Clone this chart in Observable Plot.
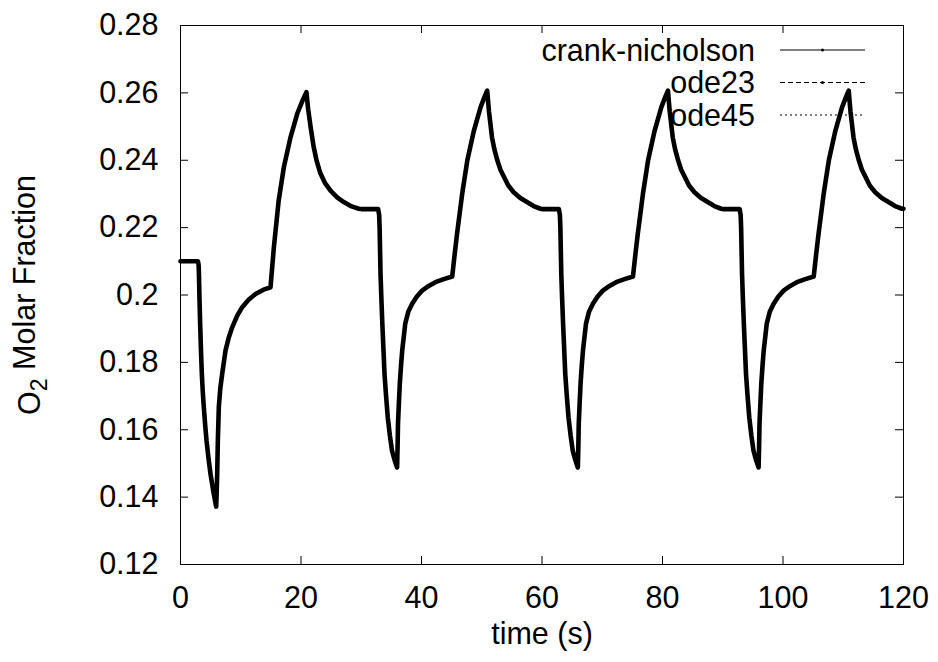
<!DOCTYPE html>
<html>
<head>
<meta charset="utf-8">
<script src="https://cdn.jsdelivr.net/npm/d3@7"></script>
<script src="https://cdn.jsdelivr.net/npm/@observablehq/plot@0.6"></script>
<style>
  html, body { margin: 0; padding: 0; background: #fff; }
  #chart svg { display: block; }
</style>
</head>
<body>
<div id="chart"></div>
<script>
// ---------------- data ----------------
const seriesNames = ["crank-nicholson", "ode23", "ode45"];

const xTicks = [0, 20, 40, 60, 80, 100, 120];
const xTickLabels = ["0", "20", "40", "60", "80", "100", "120"];
const yTicks = [0.12, 0.14, 0.16, 0.18, 0.20, 0.22, 0.24, 0.26, 0.28];
const yTickLabels = ["0.12", "0.14", "0.16", "0.18", "0.2", "0.22", "0.24", "0.26", "0.28"];

// time (s) — the three solvers overlap exactly in the picture
const timeS = [
  0, 2.9, 3.0, 3.05, 3.15, 3.26, 3.4, 3.54, 3.7, 3.87, 4.1, 4.32, 4.65, 4.98, 5.4, 5.81, 5.92,
  6.0, 6.09, 6.2, 6.36, 6.6, 6.92, 7.47, 8.0, 8.58, 9.4, 10.24, 11.3, 12.45, 13.7, 14.94,
  15.5, 16.3, 17.15, 18.26, 19.37, 20.2, 20.9,
  21.2, 21.6, 22.1, 22.6, 23.2, 24.0, 24.9, 26.0, 27.1, 28.4, 29.6, 30.0,
  32.8, 32.97, 33.05, 33.2, 33.35, 33.5, 33.86, 34.1, 34.4, 34.75, 35.1, 35.5, 35.95,
  36.03, 36.1, 36.25, 36.4, 36.6, 36.8, 37.3, 37.8, 38.45, 39.2, 40.1, 41.2, 42.3, 43.7, 45.1,
  45.5, 45.9, 46.75, 47.6, 48.7, 49.8, 50.4, 50.9,
  51.2, 51.7, 52.1, 52.6, 53.1, 53.7, 54.4, 55.3, 56.4, 57.5, 58.6, 59.75, 60.0,
  62.8, 62.97, 63.05, 63.2, 63.35, 63.5, 63.86, 64.1, 64.4, 64.75, 65.1, 65.5, 65.95,
  66.03, 66.1, 66.25, 66.4, 66.6, 66.8, 67.3, 67.8, 68.45, 69.2, 70.1, 71.2, 72.3, 73.7, 75.1,
  75.5, 75.9, 76.75, 77.6, 78.7, 79.8, 80.4, 80.9,
  81.2, 81.7, 82.1, 82.6, 83.1, 83.7, 84.4, 85.3, 86.4, 87.5, 88.6, 89.75, 90.0,
  92.8, 92.97, 93.05, 93.2, 93.35, 93.5, 93.86, 94.1, 94.4, 94.75, 95.1, 95.5, 95.95,
  96.03, 96.1, 96.25, 96.4, 96.6, 96.8, 97.3, 97.8, 98.45, 99.2, 100.1, 101.2, 102.3, 103.7, 105.1,
  105.5, 105.9, 106.75, 107.6, 108.7, 109.8, 110.4, 110.9,
  111.2, 111.7, 112.1, 112.6, 113.1, 113.7, 114.4, 115.3, 116.4, 117.5, 118.6, 119.75, 120.0
];

// O2 molar fraction
const o2Fraction = [
  0.2100, 0.2100, 0.2090, 0.2070, 0.1990, 0.1915, 0.1835, 0.1766, 0.1712, 0.1667, 0.1613, 0.1568, 0.1515, 0.1469, 0.1422, 0.1382, 0.1372,
  0.1410, 0.1469, 0.1568, 0.1667, 0.1722, 0.1766, 0.1835, 0.1873, 0.1904, 0.1938, 0.1964, 0.1986, 0.2003, 0.2015, 0.2023,
  0.2142, 0.2281, 0.2379, 0.2468, 0.2538, 0.2575, 0.2602,
  0.2550, 0.2498, 0.2440, 0.2398, 0.2362, 0.2332, 0.2310, 0.2290, 0.2276, 0.2263, 0.2256, 0.2255,
  0.2255, 0.2238, 0.2200, 0.2063, 0.1985, 0.1915, 0.1766, 0.1705, 0.1637, 0.1583, 0.1538, 0.1512, 0.1488,
  0.1550, 0.1618, 0.1680, 0.1737, 0.1790, 0.1835, 0.1915, 0.1950, 0.1974, 0.1995, 0.2013, 0.2027, 0.2038, 0.2047, 0.2055,
  0.2120, 0.2182, 0.2300, 0.2399, 0.2488, 0.2557, 0.2585, 0.2607,
  0.2545, 0.2468, 0.2432, 0.2399, 0.2372, 0.2350, 0.2325, 0.2305, 0.2288, 0.2276, 0.2264, 0.2256, 0.2255,
  0.2255, 0.2238, 0.2200, 0.2063, 0.1985, 0.1915, 0.1766, 0.1705, 0.1637, 0.1583, 0.1538, 0.1512, 0.1488,
  0.1550, 0.1618, 0.1680, 0.1737, 0.1790, 0.1835, 0.1915, 0.1950, 0.1974, 0.1995, 0.2013, 0.2027, 0.2038, 0.2047, 0.2055,
  0.2120, 0.2182, 0.2300, 0.2399, 0.2488, 0.2557, 0.2585, 0.2607,
  0.2545, 0.2468, 0.2432, 0.2399, 0.2372, 0.2350, 0.2325, 0.2305, 0.2288, 0.2276, 0.2264, 0.2256, 0.2255,
  0.2255, 0.2238, 0.2200, 0.2063, 0.1985, 0.1915, 0.1766, 0.1705, 0.1637, 0.1583, 0.1538, 0.1512, 0.1488,
  0.1550, 0.1618, 0.1680, 0.1737, 0.1790, 0.1835, 0.1915, 0.1950, 0.1974, 0.1995, 0.2013, 0.2027, 0.2038, 0.2047, 0.2055,
  0.2120, 0.2182, 0.2300, 0.2399, 0.2488, 0.2557, 0.2585, 0.2607,
  0.2545, 0.2468, 0.2432, 0.2399, 0.2372, 0.2350, 0.2325, 0.2305, 0.2288, 0.2276, 0.2264, 0.2256, 0.2256
];

const xLabel = "time (s)";
const yLabel = "O2 Molar Fraction";

// ---------------- layout ----------------
const W = 938, H = 662;
const mL = 180, mR = 35, mT = 25, mB = 98;
const plotW = W - mL - mR, plotH = H - mT - mB;
const tick = 8;
const FONT = "'Liberation Sans', Arial, Helvetica, sans-serif";
const FS = 30.5;

const rows = timeS.map((t, i) => ({t, v: o2Fraction[i]}));
const series = seriesNames.flatMap(name => rows.map(r => ({...r, name})));
const dashFor = {"crank-nicholson": null, "ode23": "5,3", "ode45": "2,3"};

const chart = Plot.plot({
  width: W,
  height: H,
  marginLeft: mL, marginRight: mR, marginTop: mT, marginBottom: mB,
  style: {fontFamily: FONT, fontSize: FS + "px", background: "#fff", color: "#000"},
  x: {domain: [0, 120]},
  y: {domain: [0.12, 0.28]},
  marks: [
    // curves (the three solvers coincide)
    Plot.line(series.filter(d => d.name === "crank-nicholson"), {x: "t", y: "v", stroke: "#000", strokeWidth: 4.6, strokeLinejoin: "round"}),
    Plot.line(series.filter(d => d.name === "ode23"), {x: "t", y: "v", stroke: "#000", strokeWidth: 1, strokeDasharray: "5,3"}),
    Plot.line(series.filter(d => d.name === "ode45"), {x: "t", y: "v", stroke: "#000", strokeWidth: 1, strokeDasharray: "2,3"}),
    // inward ticks on all four sides
    Plot.tickX(xTicks, {x: d => d, insetTop: plotH - tick, stroke: "#000", strokeWidth: 1}),
    Plot.tickX(xTicks, {x: d => d, insetBottom: plotH - tick, stroke: "#000", strokeWidth: 1}),
    Plot.tickY(yTicks, {y: d => d, insetRight: plotW - tick, stroke: "#000", strokeWidth: 1}),
    Plot.tickY(yTicks, {y: d => d, insetLeft: plotW - tick, stroke: "#000", strokeWidth: 1}),
    Plot.frame({stroke: "#000", strokeWidth: 1}),
    // tick labels
    Plot.axisX(xTicks, {tickSize: 0, tickPadding: 22, tickFormat: (d) => xTickLabels[xTicks.indexOf(d)], label: null, fill: "#000"}),
    Plot.axisY(yTicks, {tickSize: 0, tickPadding: 22, tickFormat: (d) => yTickLabels[yTicks.indexOf(d)], label: null, fill: "#000"}),
    // axis titles
    Plot.text([xLabel], {text: d => d, frameAnchor: "bottom", dy: 79, fill: "#000"}),
    Plot.text([yLabel], {text: d => d, frameAnchor: "left", rotate: -90, dx: -150, fill: "#000"})
  ]
});

document.getElementById("chart").appendChild(chart);

// subscript in the y title, re-centred by measured length
const svg = d3.select(chart);
svg.selectAll("text").filter(function () { return this.textContent === yLabel; }).each(function () {
  const t = d3.select(this);
  t.text(null);
  t.append("tspan").text("O");
  t.append("tspan").attr("font-size", Math.round(FS * 0.75)).attr("dy", "0.3em").text("2");
  t.append("tspan").attr("dy", "-0.4em").text(" Molar Fraction");
  t.attr("text-anchor", "start");
  const len = this.getComputedTextLength();
  t.attr("x", -len / 2);
});

// key (gnuplot-style, inside the top-right of the frame)
const key = svg.append("g").attr("font-family", FONT).attr("font-size", FS);
const keyTextRight = 755, keyX1 = 780, keyX2 = 865, keyY0 = 50, keyDY = 32.5;
seriesNames.forEach((name, i) => {
  const y = keyY0 + i * keyDY;
  key.append("text").attr("x", keyTextRight).attr("y", y).attr("dy", "0.35em")
    .attr("text-anchor", "end").attr("fill", "#000").text(name);
  key.append("line").attr("x1", keyX1).attr("x2", keyX2).attr("y1", y).attr("y2", y)
    .attr("stroke", "#000").attr("stroke-width", 1)
    .attr("stroke-dasharray", dashFor[name]);
  if (i < 2) {
    key.append("circle").attr("cx", (keyX1 + keyX2) / 2).attr("cy", y).attr("r", 1.5).attr("fill", "#000");
  }
});
</script>
</body>
</html>
